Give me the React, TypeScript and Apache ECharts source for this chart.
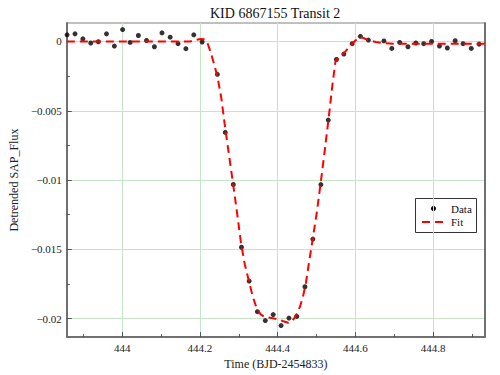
import React, { useEffect, useRef } from "react";
import * as echarts from "echarts";

// Observed data (time in BJD-2454833, detrended flux)
const dataTime = [
  443.858, 443.8785, 443.8987, 443.919, 443.9385, 443.9595, 443.9797, 444.001,
  444.0203, 444.0415, 444.0625, 444.0828, 444.1023, 444.1233, 444.1436, 444.1638,
  444.1841, 444.2056, 444.2448, 444.2651, 444.2858, 444.3068, 444.3266, 444.3478,
  444.3681, 444.3884, 444.4086, 444.4289, 444.4491, 444.4701, 444.4904, 444.5111,
  444.5301, 444.5511, 444.5701, 444.5916, 444.6127, 444.6334, 444.6734, 444.6937,
  444.7139, 444.7352, 444.7554, 444.7757, 444.7959, 444.8162, 444.8365, 444.8567,
  444.877, 444.898, 444.9182,
];
const dataFlux = [
  0.00048, 0.00055, 0.00019, -0.00011, -0.00002, 0.00055, -0.00033, 0.00086,
  -0.00007, 0.00043, 0.00007, -0.00038, 0.00062, 0.00031, -0.00016, -0.00052,
  0.00048, -0.00004, -0.00237, -0.00656, -0.01032, -0.01485, -0.01729, -0.0195,
  -0.02014, -0.01971, -0.0205, -0.01996, -0.01984, -0.0177, -0.01426, -0.01033,
  -0.00567, -0.0013, -0.00091, -0.00016, 0.00037, 0.0001, 0.00004, -0.0005,
  -0.00007, -0.00038, -0.00011, -0.00016, 0, -0.00033, -0.00047, 0.00005,
  -0.00016, -0.0005, -0.00019,
];

// Model fit curve
const fitTime = [
  443.8575, 444.1739, 444.1866, 444.2018, 444.2119, 444.2195, 444.2271, 444.2372,
  444.2448, 444.2549, 444.2651, 444.2752, 444.2853, 444.2954, 444.3056, 444.3157,
  444.3258, 444.3359, 444.3461, 444.3562, 444.3663, 444.3841, 444.4018, 444.4144,
  444.4271, 444.4347, 444.4423, 444.4499, 444.4575, 444.4651, 444.4727, 444.4803,
  444.4904, 444.5005, 444.5106, 444.5208, 444.5309, 444.541, 444.5486, 444.5537,
  444.5613, 444.5739, 444.5866, 444.5992, 444.6119, 444.622, 444.6322, 444.6524,
  444.6727, 444.698, 444.9334,
];
const fitFlux = [
  0, 0, 0.00009, 0.00018, 0.00016, -0.00013, -0.00073, -0.00173,
  -0.00252, -0.00408, -0.00629, -0.00829, -0.01029, -0.01235, -0.01456, -0.01613,
  -0.01727, -0.01841, -0.01927, -0.01969, -0.01987, -0.01996, -0.02005, -0.02019,
  -0.0203, -0.02026, -0.01998, -0.01962, -0.01912, -0.01841, -0.01741, -0.01599,
  -0.01421, -0.01235, -0.01021, -0.00793, -0.00558, -0.00309, -0.00145, -0.00123,
  -0.00109, -0.00073, -0.00031, 0.00005, 0.00033, 0.00023, 0.0001, -0.00004,
  -0.00013, -0.00016, -0.00016,
];

const xMajorTicks = [444, 444.2, 444.4, 444.6, 444.8];
const xMinorTicks = [443.9, 444.1, 444.3, 444.5, 444.7, 444.9];
const yMajorTicks = [0, -0.005, -0.01, -0.015, -0.02];
const yMinorTicks = [-0.0025, -0.0075, -0.0125, -0.0175];

const X_MIN = 443.8575;
const X_MAX = 444.9334;
const Y_MIN = -0.021333;
const Y_MAX = 0.001333;

const TITLE = "KID 6867155 Transit 2";
const X_NAME = "Time (BJD-2454833)";
const Y_NAME = "Detrended SAP_Flux";
const LEGEND_DATA = "Data";
const LEGEND_FIT = "Fit";

const FONT = "Liberation Serif";

export default function App() {
  const ref = useRef<HTMLDivElement>(null);

  useEffect(() => {
    if (!ref.current) return;
    const chart = echarts.init(ref.current, undefined, { renderer: "svg" });

    const scatterData = dataTime.map((t, i) => [t, dataFlux[i]]);
    const fitData = fitTime.map((t, i) => [t, fitFlux[i]]);

    const fmtY = (v: number) => (v === 0 ? "0" : (v < 0 ? "\u2212" : "") + String(Math.abs(v)));

    const option: any = {
      animation: false,
      backgroundColor: "#ffffff",
      textStyle: { fontFamily: FONT },
      title: {
        text: TITLE,
        left: 210,
        top: 6,
        padding: 0,
        textStyle: { fontFamily: FONT, fontSize: 14, fontWeight: "normal", color: "#111" },
      },
      grid: {
        left: 60,
        right: 15,
        top: 23,
        bottom: 34,
        show: true,
        borderColor: "#808080",
        borderWidth: 1,
        backgroundColor: "transparent",
      },
      xAxis: [
        {
          type: "value",
          min: X_MIN,
          max: X_MAX,
          position: "bottom",
          name: X_NAME,
          nameLocation: "middle",
          nameGap: 18,
          nameTextStyle: { fontFamily: FONT, fontSize: 12, color: "#222" },
          axisLine: { show: true, onZero: false, lineStyle: { color: "#707070", width: 2 } },
          axisTick: {
            show: true,
            inside: true,
            length: 5,
            customValues: xMajorTicks,
            lineStyle: { color: "#555", width: 1 },
          },
          axisLabel: {
            show: true,
            customValues: xMajorTicks,
            formatter: (v: number) => String(v),
            fontFamily: FONT,
            fontSize: 11,
            color: "#222",
            margin: 5,
          },
          splitLine: { show: true, lineStyle: { color: "#c8e4c8", width: 1 } },
        },
        {
          type: "value",
          min: X_MIN,
          max: X_MAX,
          position: "bottom",
          axisLine: { show: false, onZero: false },
          axisTick: {
            show: true,
            inside: true,
            length: 3,
            customValues: xMinorTicks,
            lineStyle: { color: "#555", width: 1 },
          },
          axisLabel: { show: false },
          splitLine: { show: false },
        },
      ],
      yAxis: [
        {
          type: "value",
          min: Y_MIN,
          max: Y_MAX,
          position: "left",
          name: Y_NAME,
          nameLocation: "middle",
          nameGap: 35,
          nameTextStyle: { fontFamily: FONT, fontSize: 12, color: "#222" },
          axisLine: { show: true, onZero: false, lineStyle: { color: "#707070", width: 2 } },
          axisTick: {
            show: true,
            inside: true,
            length: 5,
            customValues: yMajorTicks,
            lineStyle: { color: "#555", width: 1 },
          },
          axisLabel: {
            show: true,
            customValues: yMajorTicks,
            formatter: fmtY,
            fontFamily: FONT,
            fontSize: 11,
            color: "#222",
            margin: 5,
          },
          splitLine: { show: true, lineStyle: { color: "#c8e4c8", width: 1 } },
        },
        {
          type: "value",
          min: Y_MIN,
          max: Y_MAX,
          position: "left",
          axisLine: { show: false, onZero: false },
          axisTick: {
            show: true,
            inside: true,
            length: 3,
            customValues: yMinorTicks,
            lineStyle: { color: "#555", width: 1 },
          },
          axisLabel: { show: false },
          splitLine: { show: false },
        },
        {
          type: "value",
          min: Y_MIN,
          max: Y_MAX,
          position: "right",
          axisLine: { show: true, onZero: false, lineStyle: { color: "#707070", width: 2 } },
          axisTick: { show: false },
          axisLabel: { show: false },
          splitLine: { show: false },
        },
      ],
      series: [
        {
          name: LEGEND_DATA,
          type: "scatter",
          xAxisIndex: 0,
          yAxisIndex: 0,
          data: scatterData,
          symbol: "circle",
          symbolSize: 5,
          itemStyle: { color: "#000" },
          z: 2,
        },
        {
          name: LEGEND_FIT,
          type: "line",
          xAxisIndex: 0,
          yAxisIndex: 0,
          data: fitData,
          showSymbol: false,
          symbol: "none",
          smooth: false,
          lineStyle: { color: "#ff0000", width: 2, type: [8, 5] },
          z: 3,
        },
      ],
      graphic: [
        {
          type: "group",
          left: 415,
          top: 198,
          children: [
            {
              type: "rect",
              shape: { x: 0.5, y: 0.5, width: 61, height: 34 },
              style: { fill: "#fff", stroke: "#333", lineWidth: 1 },
            },
            {
              type: "circle",
              shape: { cx: 18.5, cy: 10.5, r: 2.5 },
              style: { fill: "#000" },
            },
            {
              type: "text",
              x: 36,
              y: 10.5,
              style: {
                text: LEGEND_DATA,
                fontFamily: FONT,
                fontSize: 11,
                fill: "#111",
                verticalAlign: "middle",
                align: "left",
              },
            },
            {
              type: "line",
              shape: { x1: 7, y1: 24, x2: 29, y2: 24 },
              style: { stroke: "#ff0000", lineWidth: 2, lineDash: [8, 5] },
            },
            {
              type: "text",
              x: 36,
              y: 24,
              style: {
                text: LEGEND_FIT,
                fontFamily: FONT,
                fontSize: 11,
                fill: "#111",
                verticalAlign: "middle",
                align: "left",
              },
            },
          ],
        },
      ],
    };

    chart.setOption(option);
    return () => chart.dispose();
  }, []);

  return (
    <div
      ref={ref}
      style={{ position: "fixed", left: 0, top: 0, width: 500, height: 375, background: "#fff" }}
    />
  );
}
